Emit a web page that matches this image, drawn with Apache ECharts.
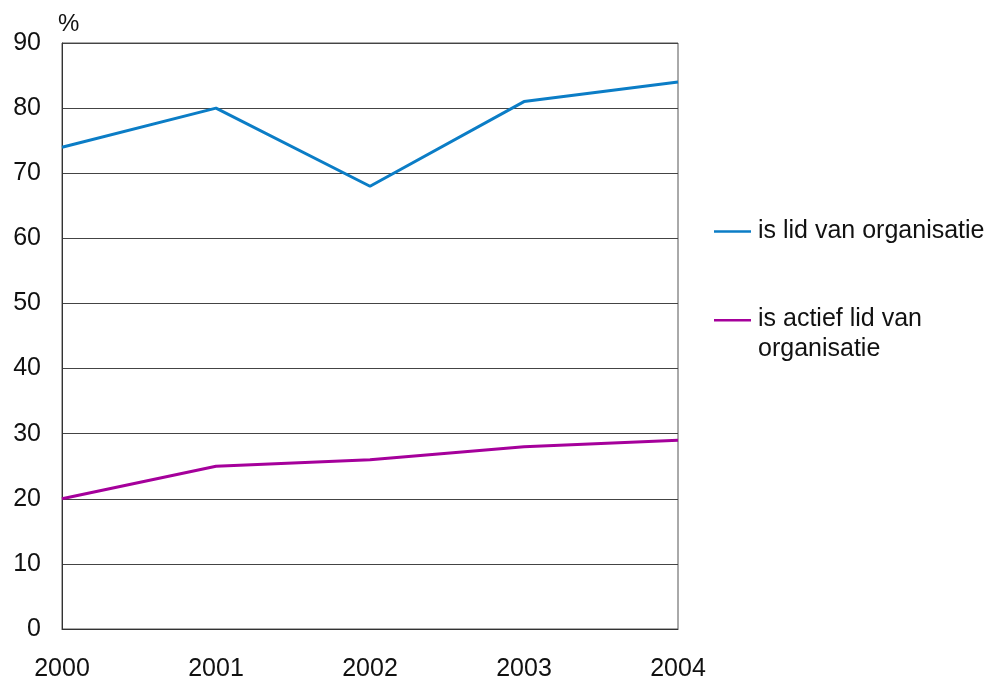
<!DOCTYPE html>
<html>
<head>
<meta charset="utf-8">
<script src="https://cdn.jsdelivr.net/npm/echarts@6/dist/echarts.min.js"></script>
<style>html,body{margin:0;padding:0;background:#fff}#c{width:992px;height:678px}</style>
</head>
<body>
<div id="c"></div>
<script>
const years = ['2000', '2001', '2002', '2003', '2004'];
const lidValues = [74, 80, 68, 81, 84];
const actiefValues = [20, 25, 26, 28, 29];
const seriesNames = ['is lid van organisatie', 'is actief lid van organisatie'];
const yTicks = { min: 0, max: 90, interval: 10 };

const font = 'Arial, "Liberation Sans", sans-serif';
const blue = '#0b7dc6';
const purple = '#a5009b';
const chart = echarts.init(document.getElementById('c'), null, { renderer: 'canvas' });
chart.setOption({
  animation: false,
  backgroundColor: '#fff',
  title: { text: '%', left: 53, top: 7, textStyle: { fontFamily: font, fontSize: 24, fontWeight: 'normal', color: '#111' } },
  grid: { left: 62, right: 314, top: 43, bottom: 49, show: true, borderColor: '#555', borderWidth: 1, outerBoundsMode: 'none', containLabel: false },
  legend: [
    { data: [seriesNames[0]], orient: 'vertical', left: 709, top: 214, itemWidth: 37, itemHeight: 2.5, icon: 'rect',
      textStyle: { fontFamily: font, fontSize: 25, color: '#111', padding: [0, 0, 0, 2] } },
    { data: [seriesNames[1]], orient: 'vertical', left: 709, top: 299, itemWidth: 37, itemHeight: 30,
      icon: 'path://M0,0L37,0L37,2.5L0,2.5Z M0,29.99L0.01,29.99L0.01,30L0,30Z',
      formatter: function (n) { return 'is actief lid van\norganisatie'; },
      textStyle: { fontFamily: font, fontSize: 25, color: '#111', lineHeight: 30, padding: [0, 0, 0, 2] } }
  ],
  xAxis: {
    type: 'category', data: years, boundaryGap: false,
    axisLine: { lineStyle: { color: '#333', width: 1 } }, axisTick: { show: false },
    axisLabel: { fontFamily: font, fontSize: 25, color: '#111', margin: 28 }
  },
  yAxis: {
    type: 'value', min: yTicks.min, max: yTicks.max, interval: yTicks.interval,
    axisLine: { show: true, lineStyle: { color: '#333', width: 1 } }, axisTick: { show: false },
    splitLine: { lineStyle: { color: '#444', width: 1 } },
    axisLabel: { fontFamily: font, fontSize: 25, color: '#111', margin: 21 }
  },
  series: [
    { name: seriesNames[0], type: 'line', data: lidValues, symbol: 'none', lineStyle: { color: blue, width: 3 }, itemStyle: { color: blue } },
    { name: seriesNames[1], type: 'line', data: actiefValues, symbol: 'none', lineStyle: { color: purple, width: 3 }, itemStyle: { color: purple } }
  ]
});
</script>
</body>
</html>
